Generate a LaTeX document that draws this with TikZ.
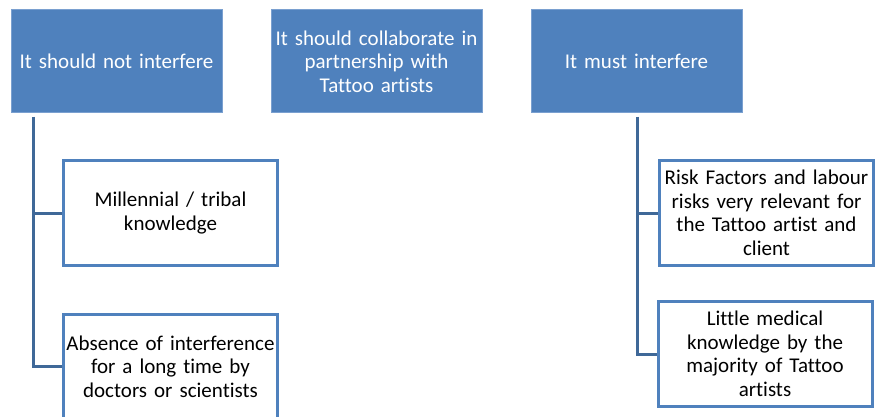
\documentclass[tikz,border=0pt]{standalone}
\usepackage{fontspec}
\setmainfont{Carlito}[Ligatures=NoCommon]
\definecolor{headblue}{HTML}{4F81BD}
\definecolor{headline}{HTML}{7AA0D0}
\definecolor{linkblue}{HTML}{3F6898}
\tikzset{
    head/.style={draw=headline, fill=headblue, line width=1pt, text=white, minimum width=211pt, minimum height=103pt, text width=209pt, align=center, inner sep=0pt, font=\fontsize{21}{23.5}\selectfont},
    leaf/.style={draw=headblue, fill=white, line width=3pt, minimum width=214pt, minimum height=105pt, text width=214pt, align=center, inner sep=0pt, font=\fontsize{21}{23.5}\selectfont},
    link/.style={draw=linkblue, line width=3pt}
}
\begin{document}
\begin{tikzpicture}[x=1pt, y=-1pt]
                \useasboundingbox (0, 0) rectangle (876, 417);

                \node[head] (H1) at (116.5, 61.5) { It should not interfere };
                \node[head] (H2) at (376.5, 61.5) { It should collaborate in\\ partnership with\\ Tattoo artists };
                \node[head] (H3) at (636.5, 61.5) { It must interfere };

                \node[leaf] (L1) at (170.5, 213) { Millennial / tribal\\ knowledge };
                \node[leaf] (L2) at (170.5, 366.5) { Absence of interference\\ for a long time by\\ doctors or scientists };
                \node[leaf] (R1) at (766.5, 213) { Risk Factors and labour\\ risks very relevant for\\ the Tattoo artist and\\ client };
                \node[leaf] (R2) at (765, 354) { Little medical\\ knowledge by the\\ majority of Tattoo\\ artists };

                \coordinate (LT) at (33, 117);
                \coordinate (RT) at (637, 117);

                \draw[link] (LT) |- (L1.west);
                \draw[link] (LT) |- (L2.west);
                \draw[link] (RT) |- (R1.west);
                \draw[link] (RT) |- (R2.west);
            \end{tikzpicture}
\end{document}
